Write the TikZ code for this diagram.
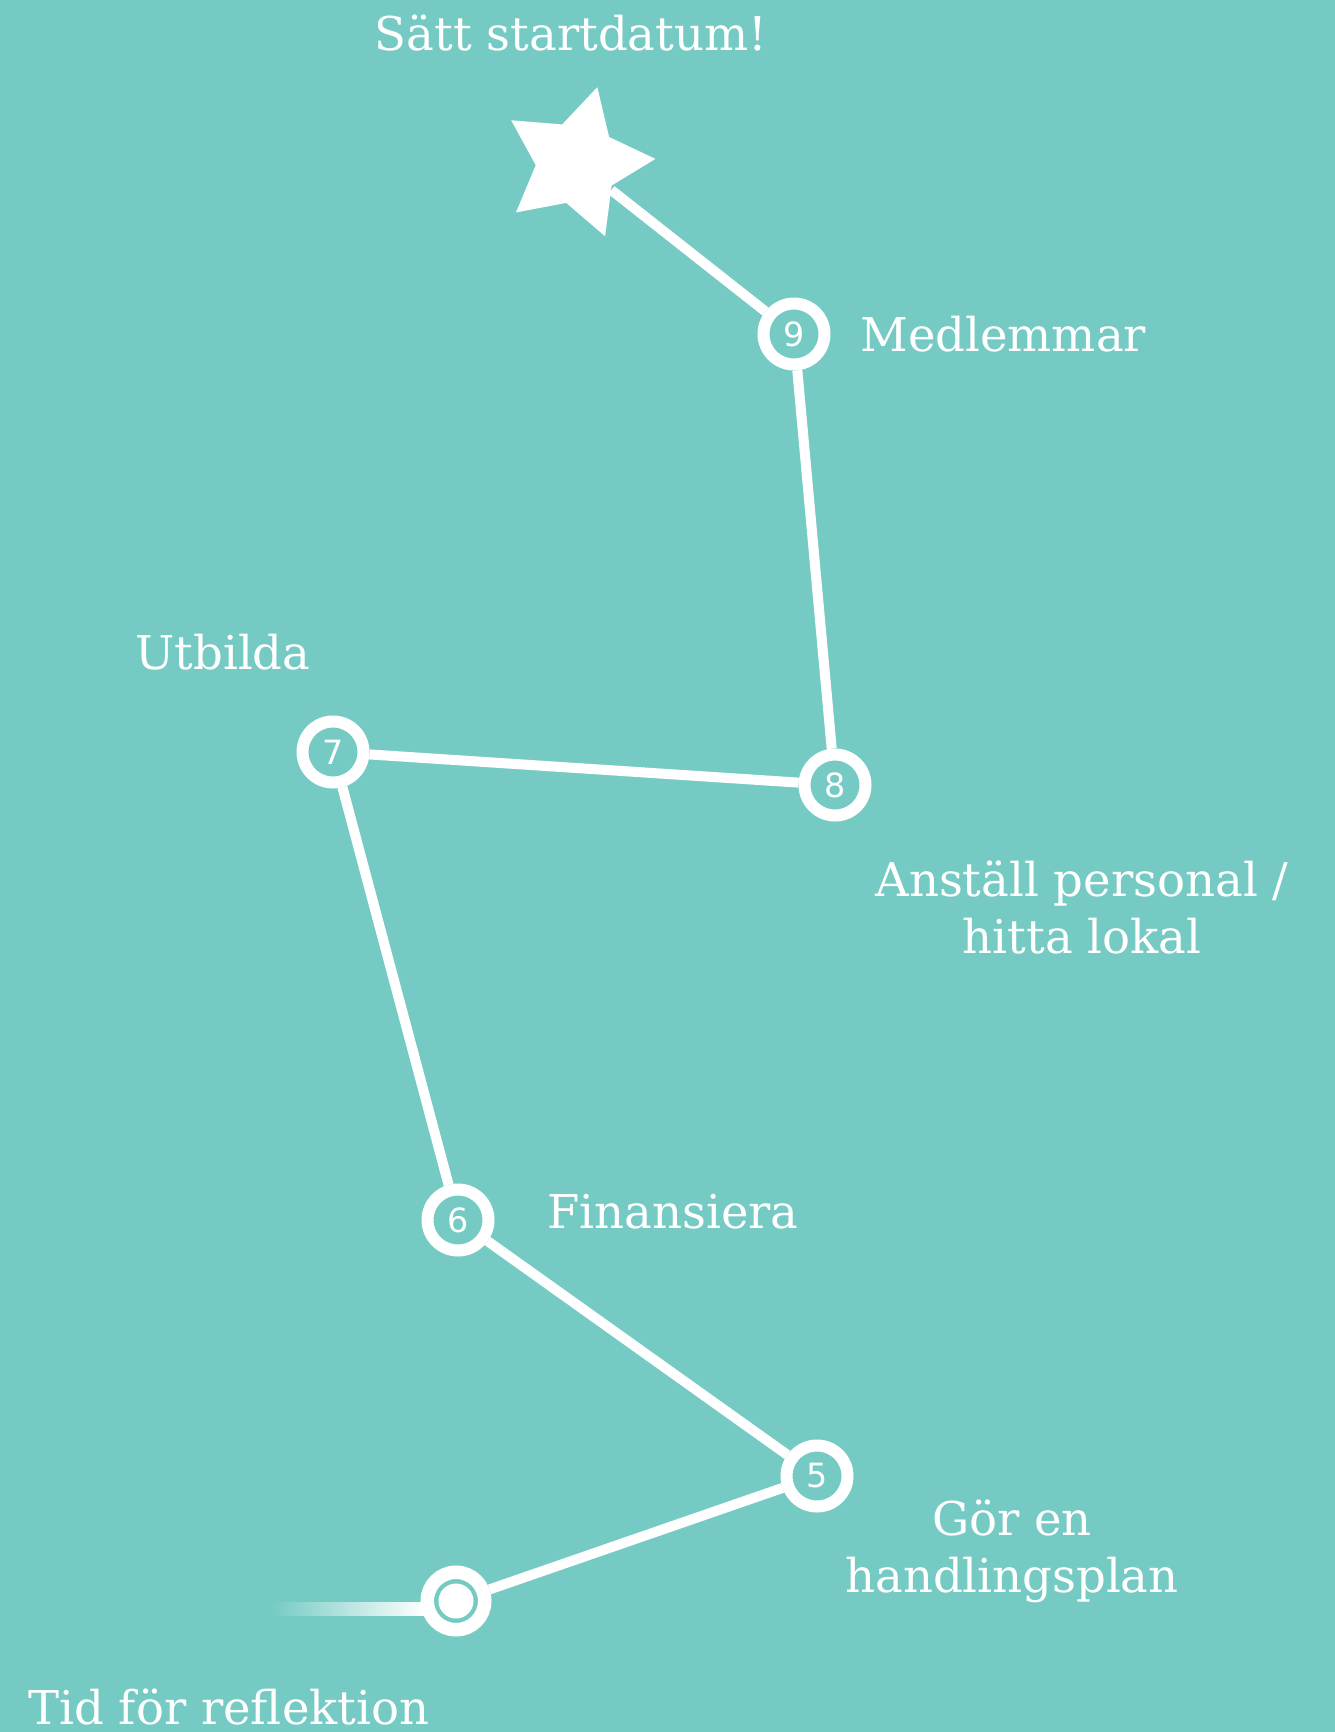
\documentclass[tikz,border=0pt]{standalone}
\usepackage{fontspec}
\setmainfont{DejaVu Serif}
\newfontfamily\numfont{DejaVu Sans}
\usetikzlibrary{shapes.geometric}
\definecolor{roadbg}{HTML}{75CBC3}

\begin{document}
\begin{tikzpicture}[x=0.02cm,y=-0.02cm,
  stop/.style={circle,draw=white,line width=0.24cm,fill=roadbg,minimum size=1.22cm,inner sep=0pt,
    text=white,font=\numfont\fontsize{19}{22}\selectfont},
  road/.style={white,line width=0.2cm},
  steplabel/.style={text=white,inner sep=0pt,font=\fontsize{26.5}{32}\selectfont}]
\useasboundingbox (0,0) rectangle (1335,1732);
\fill[roadbg] (0,0) rectangle (1335,1732);
% start of the road
\shade[left color=roadbg,right color=white] (272,1602) rectangle (425,1615);
\fill[white] (420,1602) rectangle (450,1615);
\node[circle,draw=white,line width=0.27cm,fill=roadbg,minimum size=1.15cm,inner sep=0pt] (start) at (456,1601) {};
\fill[white] (start.center) circle (0.35cm);
% stops
\node[stop] (s5) at (817,1476) {5};
\node[stop] (s6) at (458,1220) {6};
\node[stop] (s7) at (333,752) {7};
\node[stop] (s8) at (835,785) {8};
\node[stop] (s9) at (794,334) {9};
\node[star,star points=5,star point ratio=1.9,minimum size=3.14cm,inner sep=0pt,
  fill=white,shape border rotate=-15] (goal) at (577,163) {};
% road between the stops
\draw[road] (start) -- (s5);
\draw[road] (s5) -- (s6);
\draw[road] (s6) -- (s7);
\draw[road] (s7) -- (s8);
\draw[road] (s8) -- (s9);
\draw[road] (s9) -- (goal);
% labels
\node[steplabel,anchor=base] (lgoal) at (571,50) {Sätt startdatum!};
\node[steplabel,anchor=base west] (l9) at (860,351) {Medlemmar};
\node[steplabel,anchor=base west] (l7) at (135,669) {Utbilda};
\node[steplabel,anchor=base,align=center] (l8) at (1082,953) {Anställ personal /\\hitta lokal};
\node[steplabel,anchor=base west] (l6) at (547,1228) {Finansiera};
\node[steplabel,anchor=base,align=center] (l5) at (1012,1592) {Gör en\\handlingsplan};
\node[steplabel,anchor=base west] (lstart) at (28,1724) {Tid för reflektion};
\end{tikzpicture}
\end{document}
